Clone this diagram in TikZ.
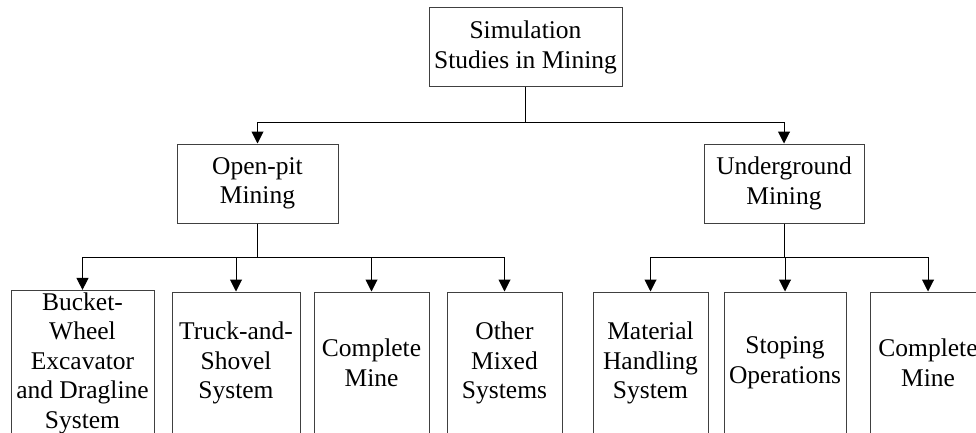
\documentclass[tikz,border=0pt]{standalone}
\usepackage{fontspec}
\setmainfont{Liberation Serif}
\usepackage{tikz}
\usetikzlibrary{arrows.meta,positioning}
\usepackage{xcolor}
\definecolor{ink}{HTML}{000000}
\definecolor{edge}{HTML}{404040}
\tikzset{catbox/.style={draw=edge,line width=1pt,align=center,inner sep=2pt,font=\fontsize{25.5}{29.5}\selectfont},leafbox/.style={catbox,minimum height=142pt},branch/.style={draw=ink,line width=1pt,->}}

\begin{document}
\begin{tikzpicture}[x=1pt,y=-1pt,>={Triangle[length=12pt,width=12pt]}]
\useasboundingbox (0,0) rectangle (976,433);
\node[catbox,minimum width=193pt,minimum height=79pt] (sim) at (525.5,47.5) {Simulation\\Studies in Mining};
\node[catbox,minimum width=161pt,minimum height=79pt] (open) at (257.5,183.5) {Open-pit\\Mining};
\node[catbox,minimum width=160pt,minimum height=79pt] (under) at (784,183.5) {Underground\\Mining};
% open-pit branches
\node[leafbox,minimum width=143pt] (bwe) at (82.5,363) {Bucket-\\Wheel\\Excavator\\and Dragline\\System};
\node[leafbox,minimum width=128pt] (truck) at (236,363) {Truck-and-\\Shovel\\System};
\node[leafbox,minimum width=115pt] (cmopen) at (371.5,363) {Complete\\Mine};
\node[leafbox,minimum width=115pt] (mixed) at (504.5,363) {Other\\Mixed\\Systems};
% underground branches
\node[leafbox,minimum width=115pt] (mhs) at (650.5,363) {Material\\Handling\\System};
\node[leafbox,minimum width=122pt] (stope) at (785,363) {Stoping\\Operations};
\node[leafbox,minimum width=116pt] (cmunder) at (928,363) {Complete\\Mine};
\coordinate (topbar) at (0,122);
\coordinate (lowbar) at (0,257);
\foreach \u in {open,under}{\draw[branch] (sim.south) -- (sim.south |- topbar) -| (\u.north);}
\foreach \u in {bwe,truck,cmopen,mixed}{\draw[branch] (open.south) -- (open.south |- lowbar) -| (\u.north);}
\foreach \u in {mhs,stope,cmunder}{\draw[branch] (under.south) -- (under.south |- lowbar) -| (\u.north);}
\end{tikzpicture}
\end{document}
